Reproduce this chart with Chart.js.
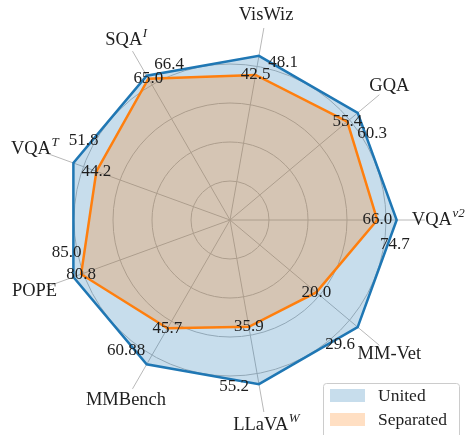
<!DOCTYPE html>
<html>
<head>
<meta charset="utf-8">
<script src="https://cdn.jsdelivr.net/npm/chart.js@4.4.0/dist/chart.umd.min.js"></script>
<style>
  html, body { margin: 0; padding: 0; background: #fff; }
  #chart { display: block; }
</style>
</head>
<body>
<canvas id="chart" width="466" height="435"></canvas>
<script>
// axes, clockwise starting from the right-hand spoke
const axisNames = ['VQA', 'MM-Vet', 'LLaVA', 'MMBench', 'POPE', 'VQA', 'SQA', 'VisWiz', 'GQA'];
const axisSups = ['v2', '', 'W', '', '', 'T', 'I', '', ''];

const united = [74.7, 29.6, 55.2, 60.88, 85.0, 51.8, 66.4, 48.1, 60.3];
const separated = [66.0, 20.0, 35.9, 45.7, 80.8, 44.2, 65.0, 42.5, 55.4];

// every axis is scaled to its own best score
const axisMax = united.map((v, i) => Math.max(v, separated[i]));
const norm = arr => arr.map((v, i) => v / axisMax[i]);

const fmt = v => Math.abs(v * 10 - Math.round(v * 10)) < 1e-6 ? v.toFixed(1) : String(v);

const serif = '"Liberation Serif", "Times New Roman", serif';

function drawName(ctx, base, sup, x, y) {
  ctx.font = '18.5px ' + serif;
  const w1 = ctx.measureText(base).width;
  ctx.font = 'italic 13px ' + serif;
  const w2 = sup ? ctx.measureText(sup).width : 0;
  const left = x - (w1 + w2) / 2;
  ctx.textAlign = 'left';
  ctx.font = '18.5px ' + serif;
  ctx.fillText(base, left, y);
  if (sup) {
    ctx.font = 'italic 13px ' + serif;
    ctx.fillText(sup, left + w1 + 0.5, y - 6);
  }
}

const annotate = {
  id: 'annotate',
  afterDatasetsDraw(chart) {
    const ctx = chart.ctx;
    const r = chart.scales.r;
    ctx.save();
    ctx.fillStyle = '#1e1e1e';
    ctx.textBaseline = 'middle';

    // value labels: separated on its points, united nudged clockwise
    chart.data.datasets.forEach(ds => {
      ds.values.forEach((v, i) => {
        const dist = r.getDistanceFromCenterForValue(ds.data[i]);
        const a = r.getIndexAngle(i) - Math.PI / 2 + ds.shift;
        ctx.font = '17px ' + serif;
        ctx.textAlign = 'center';
        ctx.fillText(fmt(v), r.xCenter + Math.cos(a) * dist, r.yCenter + Math.sin(a) * dist);
      });
    });

    // axis names
    axisNames.forEach((name, i) => {
      const p = r.getPointPosition(i, r.drawingArea + 13);
      drawName(ctx, name, axisSups[i], p.x, p.y);
    });

    // legend box
    const lx = 323, ly = 383;
    ctx.beginPath();
    ctx.roundRect(lx + 0.5, ly + 0.5, 136, 60, 3);
    ctx.fillStyle = 'rgba(255,255,255,0.8)';
    ctx.fill();
    ctx.strokeStyle = '#cccccc';
    ctx.lineWidth = 1;
    ctx.stroke();
    ['United', 'Separated'].forEach((lab, k) => {
      const ds = chart.data.datasets.find(d => d.label === lab);
      ctx.fillStyle = ds.backgroundColor;
      ctx.fillRect(lx + 7, ly + 6 + k * 24, 35, 13);
      ctx.fillStyle = '#1e1e1e';
      ctx.textAlign = 'left';
      ctx.font = '17.5px ' + serif;
      ctx.fillText(lab, lx + 55, ly + 13 + k * 24);
    });
    ctx.restore();
  }
};

new Chart(document.getElementById('chart'), {
  type: 'radar',
  data: {
    labels: axisNames.map((n, i) => n + axisSups[i]),
    datasets: [
      {
        label: 'Separated',
        data: norm(separated),
        values: separated,
        shift: 0,
        borderColor: '#ff7f0e',
        backgroundColor: 'rgba(255,127,14,0.25)',
        borderWidth: 2.5,
        fill: true,
        pointRadius: 0,
        order: 1
      },
      {
        label: 'United',
        data: norm(united),
        values: united,
        shift: 0.15,
        borderColor: '#1f77b4',
        backgroundColor: 'rgba(31,119,180,0.25)',
        borderWidth: 2.5,
        fill: true,
        pointRadius: 0,
        order: 2
      }
    ]
  },
  options: {
    responsive: false,
    animation: false,
    layout: { padding: { left: 35, right: 41, top: 25, bottom: 20 } },
    plugins: { legend: { display: false }, tooltip: { enabled: false } },
    elements: { line: { tension: 0 } },
    scales: {
      r: {
        min: 0,
        max: 1.17,
        startAngle: 90,
        ticks: { display: false, stepSize: 0.234 },
        pointLabels: { display: false },
        angleLines: { color: '#b8b8b8', lineWidth: 1 },
        grid: {
          circular: true,
          lineWidth: 1,
          color: c => (c.tick && c.tick.value > 1.1) ? 'rgba(0,0,0,0)' : '#b8b8b8'
        }
      }
    }
  },
  plugins: [annotate]
});
</script>
</body>
</html>
